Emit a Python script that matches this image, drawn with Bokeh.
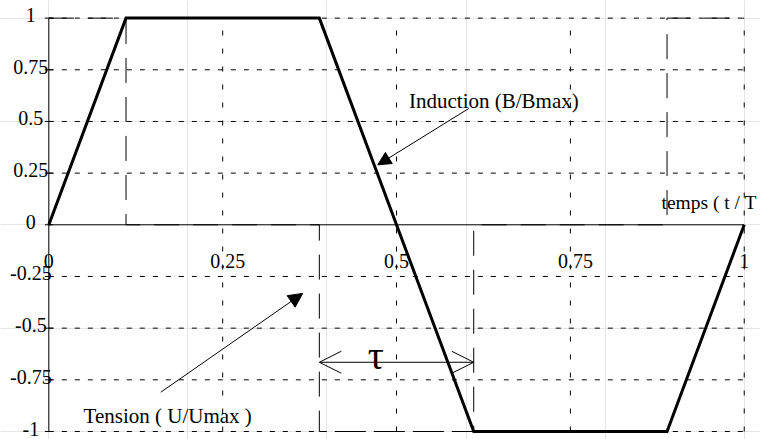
from bokeh.plotting import figure
from bokeh.models import Range1d, Arrow, NormalHead, OpenHead
from bokeh.core.properties import value
from bokeh.embed import file_html
from bokeh.resources import INLINE

# ---- data ----
t_B = [0.0, 0.111, 0.389, 0.611, 0.889, 1.0]
B = [0.0, 1.0, 1.0, -1.0, -1.0, 0.0]
t_U = [0.0, 0.111, 0.111, 0.389, 0.389, 0.611, 0.611, 0.889, 0.889, 1.0]
U = [1.0, 1.0, 0.0, 0.0, -1.0, -1.0, 0.0, 0.0, 1.0, 1.0]
x_ticks = [0.0, 0.25, 0.5, 0.75, 1.0]
x_tick_labels = ["0", "0.25", "0.5", "0.75", "1"]
y_ticks = [1.0, 0.75, 0.5, 0.25, 0.0, -0.25, -0.5, -0.75, -1.0]
y_tick_labels = ["1", "0.75", "0.5", "0.25", "0", "-0.25", "-0.5", "-0.75", "-1"]
x_grid = [0.25, 0.5, 0.75, 1.0]
y_grid = [1.0, 0.75, 0.5, 0.25, -0.25, -0.5, -0.75, -1.0]
x_title = "temps ( t / T"
b_label = "Induction  (B/Bmax)"
u_label = "Tension ( U/Umax )"
tau_label = "\u03c4"

# annotation anchors (data coordinates)
x_title_pos = (0.881, 0.110)
b_label_pos = (0.518, 0.598)
b_arrow = (0.604, 0.563, 0.473, 0.290)
u_label_pos = (0.050, -0.923)
u_arrow = (0.161, -0.810, 0.365, -0.332)
tau_y = -0.665
tau_label_pos = (0.470, -0.632)

SERIF = value("Liberation Serif")

p = figure(width=760, height=439,
           x_range=Range1d(-0.0695, 1.0234), y_range=Range1d(-1.0387, 1.0852),
           x_axis_location=None, y_axis_location=None,
           toolbar_location=None, output_backend="svg", min_border=0)
p.outline_line_color = None
p.background_fill_color = "white"
p.border_fill_color = "white"

# grid lines (dotted)
p.segment(x0=x_grid, y0=[-1.0] * len(x_grid), x1=x_grid, y1=[1.0] * len(x_grid),
          line_color="black", line_width=1, line_dash="5 13")
p.segment(x0=[0.0] * len(y_grid), y0=y_grid, x1=[1.0] * len(y_grid), y1=y_grid,
          line_color="black", line_width=1, line_dash="5 8")

# axes drawn through origin
p.segment(x0=[0.0, 0.0], y0=[-1.0, 0.0], x1=[0.0, 1.0], y1=[1.0, 0.0],
          line_color="black", line_width=1)
p.scatter(x=[0.0] * len(y_ticks), y=y_ticks, marker="dash", size=8,
          line_color="black", line_width=1)

# tick labels
p.text(x=[0.0] * len(y_ticks), y=y_ticks, text=y_tick_labels,
       text_font=SERIF, text_font_size="20px", text_color="black",
       text_align="center", text_baseline="middle", x_offset=-18, y_offset=-3)
x_off = [-12.5 if "." in s else -5.0 for s in x_tick_labels]
p.text(x=x_ticks, y=[-0.173] * len(x_ticks), text=x_tick_labels,
       text_font=SERIF, text_font_size="20px", text_color="black",
       text_align="left", text_baseline="alphabetic", x_offset=x_off)

# Tension (square wave, long dashes)
p.line(t_U, U, line_color="black", line_width=1, line_dash="25 14")
# Induction (trapezoid, thick)
p.line(t_B, B, line_color="black", line_width=3, line_join="miter")

# texts
p.text(x=[x_title_pos[0]], y=[x_title_pos[1]], text=[x_title], text_font=SERIF,
       text_font_size="19.5px", text_align="left", text_baseline="alphabetic")
p.text(x=[b_label_pos[0]], y=[b_label_pos[1]], text=[b_label], text_font=SERIF,
       text_font_size="21px", text_align="left", text_baseline="alphabetic")
p.text(x=[u_label_pos[0]], y=[u_label_pos[1]], text=[u_label], text_font=SERIF,
       text_font_size="21px", text_align="left", text_baseline="alphabetic")
p.text(x=[tau_label_pos[0]], y=[tau_label_pos[1]], text=[tau_label], text_font=SERIF,
       text_font_size="40px", text_align="center", text_baseline="alphabetic")

# arrows
p.add_layout(Arrow(end=NormalHead(size=13, fill_color="black", line_color="black"),
                   x_start=b_arrow[0], y_start=b_arrow[1], x_end=b_arrow[2], y_end=b_arrow[3],
                   line_color="black", line_width=1))
p.add_layout(Arrow(end=NormalHead(size=14, fill_color="black", line_color="black"),
                   x_start=u_arrow[0], y_start=u_arrow[1], x_end=u_arrow[2], y_end=u_arrow[3],
                   line_color="black", line_width=1))
p.add_layout(Arrow(start=OpenHead(size=22, line_color="black", line_width=1),
                   end=OpenHead(size=22, line_color="black", line_width=1),
                   x_start=t_B[2], y_start=tau_y, x_end=t_B[3], y_end=tau_y,
                   line_color="black", line_width=1))

open("out.html", "w").write(file_html(p, INLINE))
